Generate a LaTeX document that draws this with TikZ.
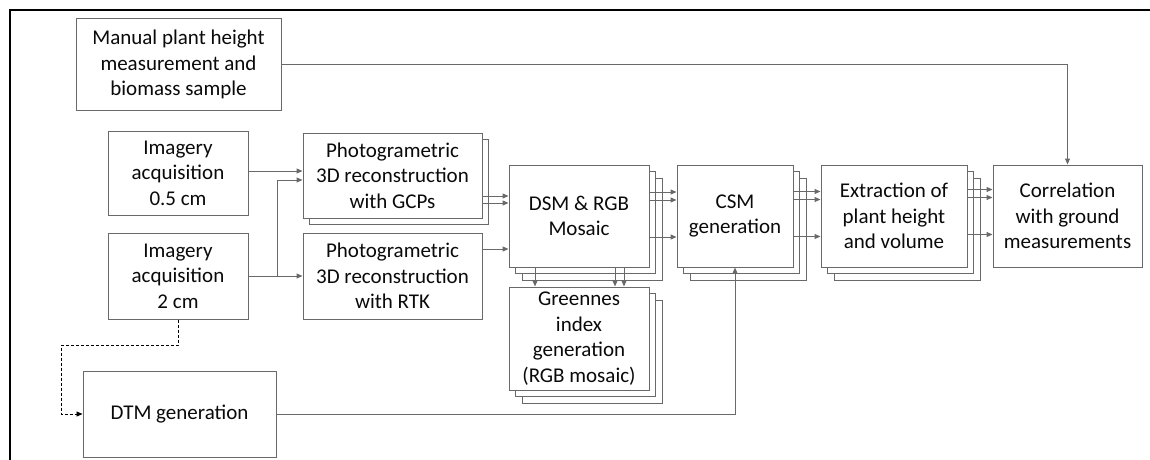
\documentclass[tikz,border=0pt]{standalone}
\usepackage{fontspec}
\setmainfont{Carlito}
\usetikzlibrary{calc,arrows.meta}

\definecolor{linegray}{RGB}{105,105,105}
\definecolor{textgray}{RGB}{10,10,10}

\tikzset{
	box/.style={draw=linegray, line width=1pt, fill=white, text=textgray,
		align=center, inner sep=2pt,
		font=\fontsize{21}{25.5}\selectfont},
	flow/.style={draw=linegray, line width=1pt,
		-{Triangle[length=6pt,width=5pt]}},
	dashflow/.style={draw=black, line width=0.9pt, dash pattern=on 3pt off 2pt,
		-{Triangle[length=6pt,width=5pt]}},
}

\begin{document}
\begin{tikzpicture}[x=1pt,y=-1pt]

% parameters %{{{2

	\def\shift{6.5}

	\useasboundingbox (0,0) rectangle (1150,460);

% frame %{{{2

	\draw[line width=2.5pt, line cap=rect] (1150,10) -- (10,10) -- (10,460);

% coordinates %{{{2

	\coordinate (a1) at (0,171);
	\coordinate (a2) at (0,180);
	\coordinate (b1) at (0,196);
	\coordinate (b2) at (0,203);
	\coordinate (b3) at (0,249);
	\coordinate (c1) at (0,192);
	\coordinate (c2) at (0,200);
	\coordinate (c3) at (0,237);
	\coordinate (br) at (277,276);
	\coordinate (dj) at (61,345);

% shadows of stacked boxes %{{{2

	\foreach \cx/\cy/\w/\h/\n in {392.5/175.5/179/85/1,
			579/216/140/102/2, 579/338.5/140/103/2,
			735/216/116/102/2, 894/216/146/102/2} {
		\foreach \k in {\n,...,1} {
			\draw[draw=linegray, line width=1pt, fill=white]
				($(\cx-\w/2,\cy-\h/2)+(\k*\shift,\k*\shift)$)
				rectangle ++(\w,\h);
		}
	}

% boxes %{{{2

	\node[box, minimum width=205pt, minimum height=92pt] (manual) at (178.5,64.5)
		{Manual plant height\\measurement and\\biomass sample};
	\node[box, minimum width=140pt, minimum height=84pt] (img05) at (178,173)
		{Imagery\\acquisition\\0.5 cm};
	\node[box, minimum width=140pt, minimum height=86pt] (img2) at (178,276)
		{Imagery\\acquisition\\2 cm};
	\node[box, minimum width=179pt, minimum height=85pt] (gcp) at (392.5,175.5)
		{Photogrametric\\3D reconstruction\\with GCPs};
	\node[box, minimum width=179pt, minimum height=86pt] (rtk) at (392.5,276)
		{Photogrametric\\3D reconstruction\\with RTK};
	\node[box, minimum width=140pt, minimum height=102pt] (dsm) at (579,216)
		{DSM \& RGB\\Mosaic};
	\node[box, minimum width=140pt, minimum height=103pt] (green) at (579,338.5)
		{Greennes\\index\\generation\\(RGB mosaic)};
	\node[box, minimum width=116pt, minimum height=102pt] (csm) at (735,216)
		{CSM\\generation};
	\node[box, minimum width=146pt, minimum height=102pt] (extr) at (894,216)
		{Extraction of\\plant height\\and volume};
	\node[box, minimum width=149pt, minimum height=102pt] (corr) at (1067.5,216)
		{Correlation\\with ground\\measurements};
	\node[box, minimum width=193pt, minimum height=86pt] (dtm) at (179.5,414)
		{DTM generation};

% connectors %{{{2

	\draw[flow] (manual.east) -| (corr.north);

	\draw[flow] (img05.east |- a1) -- (gcp.west |- a1);
	\draw[flow] (img2.east) -- (rtk.west);
	\draw[flow] (br) |- (gcp.west |- a2);

	\draw[flow] (gcp.east |- b1) -- (dsm.west |- b1);
	\draw[flow] (gcp.east |- b2) -- (dsm.west |- b2);
	\draw[flow] (rtk.east |- b3) -- (dsm.west |- b3);

	\foreach \x in {535,615,624} {
		\draw[flow] (dsm.south -| \x,0) -- (green.north -| \x,0);
	}

	\foreach \r in {c1,c2,c3} {
		\draw[flow] (dsm.east |- \r) -- (csm.west |- \r);
		\draw[flow] ($(csm.east |- \r)+(0,-0.5)$) -- ($(extr.west |- \r)+(0,-0.5)$);
		\draw[flow] ($(extr.east |- \r)+(0,-2.5)$) -- ($(corr.west |- \r)+(0,-2.5)$);
	}

	\draw[flow] (dtm.east) -| (csm.south);

	\draw[dashflow] (img2.south) |- (dj) |- (dtm.west);

% closing %{{{2

\end{tikzpicture}
\end{document}
